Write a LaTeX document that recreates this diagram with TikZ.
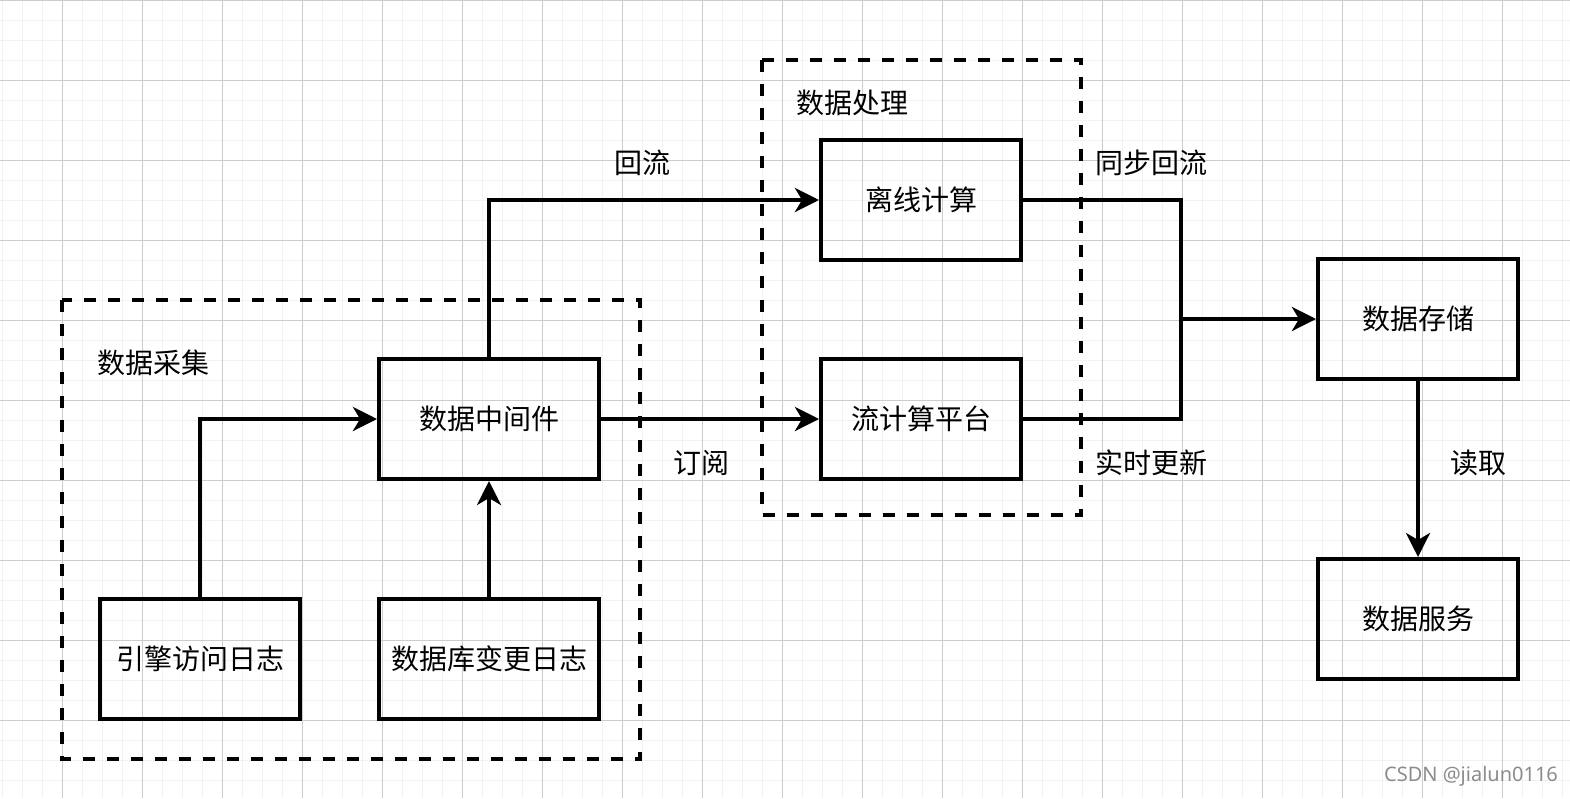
\documentclass[tikz,border=0pt]{standalone}
\usepackage{fontspec}
\setmainfont{Noto Sans CJK SC}
\newfontfamily\markfont{Noto Sans}
\usepackage{tikz}
\usetikzlibrary{calc, arrows.meta, positioning}

\tikzset{
    stage/.style={draw, line width=4pt, minimum height=120pt, inner sep=0pt, font=\fontsize{28}{32}\selectfont},
    group/.style={line width=4pt, dash pattern=on 12pt off 12pt},
    link/.style={line width=4pt},
    flow/.style={link, -{Stealth[length=24pt, width=24pt, inset=7pt]}},
    tag/.style={font=\fontsize{28}{32}\selectfont, inner sep=0pt, yshift=-2pt}
}

\begin{document}
\begin{tikzpicture}[x=1pt, y=-1pt]
           \useasboundingbox (0,0) rectangle (1570,798);
           \fill[white] (0,0) rectangle (1570,798);

           % grid
           \foreach \gx in {2,22,...,1570}
               \draw[line width=1pt, color=black!5] (\gx,0) -- (\gx,798);
           \foreach \gy in {0,20,...,798}
               \draw[line width=1pt, color=black!5] (0,\gy) -- (1570,\gy);
           \foreach \gx in {62,142,...,1570}
               \draw[line width=1pt, color=black!20] (\gx,0) -- (\gx,798);
           \foreach \gy in {0,80,...,798}
               \draw[line width=1pt, color=black!20] (0,\gy) -- (1570,\gy);

           % groups
           \draw[group] (62,300) rectangle (640,759);
           \node[tag] (collect) at (153,361){数据采集};
           \draw[group] (762,60) rectangle (1081,515);
           \node[tag] (process) at (852,101){数据处理};

           % stages
           \node[stage, minimum width=200pt] (engine_log) at (200,659){\raisebox{-2pt}{引擎访问日志}};
           \node[stage, minimum width=220pt] (db_log) at (489,659){\raisebox{-2pt}{数据库变更日志}};
           \node[stage, minimum width=220pt] (middleware) at (489,419){\raisebox{-2pt}{数据中间件}};
           \node[stage, minimum width=200pt] (offline) at (921,200){\raisebox{-2pt}{离线计算}};
           \node[stage, minimum width=200pt] (stream) at (921,419){\raisebox{-2pt}{流计算平台}};
           \node[stage, minimum width=200pt] (storage) at (1418,319){\raisebox{-2pt}{数据存储}};
           \node[stage, minimum width=200pt] (service) at (1418,619){\raisebox{-2pt}{数据服务}};

           \coordinate (merge) at (1181,319);

           % connectors
           \draw[flow] (engine_log.north) |- (middleware.west);
           \draw[flow] (db_log.north) -- (middleware.south);
           \draw[flow] (middleware.north) |- (offline.west);
           \draw[flow] (middleware.east) -- (stream.west);
           \draw[link] (offline.east) -| (merge);
           \draw[link] (stream.east) -| (merge);
           \draw[flow] (merge) -- (storage.west);
           \draw[flow] (storage.south) -- (service.north);

           % labels
           \node[tag] (back) at (642,161){回流};
           \node[tag] (subscribe) at (701,461){订阅};
           \node[tag] (sync_back) at (1151,161){同步回流};
           \node[tag] (realtime) at (1151,461){实时更新};
           \node[tag] (read) at (1478,461){读取};

           \node[font=\markfont\fontsize{20}{24}\selectfont, color=black!45, inner sep=0pt] (mark) at (1471,776){CSDN @jialun0116};
\end{tikzpicture}
\end{document}
